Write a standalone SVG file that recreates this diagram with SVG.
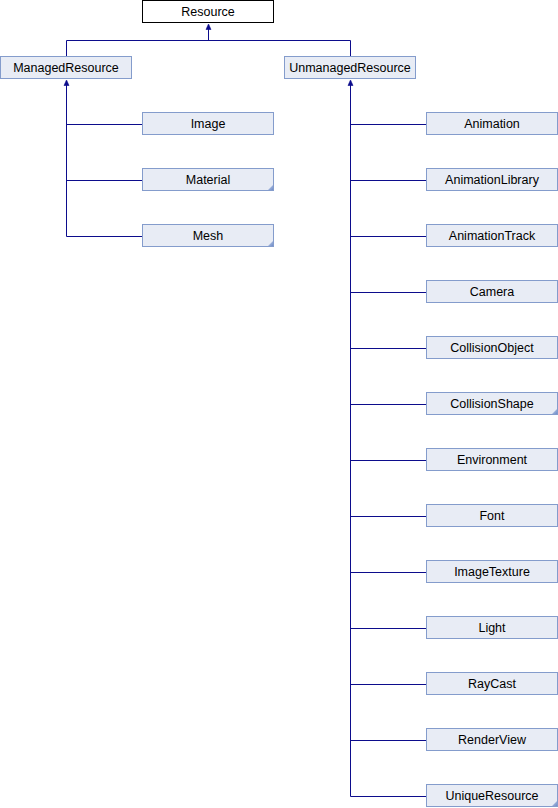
<svg xmlns="http://www.w3.org/2000/svg" width="558" height="808" viewBox="0 0 558 808">
<defs>
<style>
.n rect{fill:#e8ecf5;stroke:#849ccc;stroke-width:1}
.n.root rect{fill:#ffffff;stroke:#000000}
.n text{font-family:"Liberation Sans",Arial,sans-serif;font-size:12.5px;fill:#000000;text-anchor:middle}
.c line,.c polyline{stroke:#0c0c8c;stroke-width:1;fill:none}
.c polygon{fill:#0c0c8c;stroke:#0c0c8c;stroke-width:0.6}
.corner{fill:url(#cg)}
</style>
<linearGradient id="cg" x1="0" y1="0" x2="1" y2="1">
<stop offset="0" stop-color="#c8d4ec"/>
<stop offset="1" stop-color="#6f8cc8"/>
</linearGradient>
</defs>
<rect width="558" height="808" fill="#ffffff"/>
<g id="connectors" class="c">
<polyline points="66.5,56.5 66.5,40.5 350.5,40.5 350.5,56.5"/>
<line x1="208.5" y1="40.5" x2="208.5" y2="28"/>
<polygon points="208.5,24 206,29.5 211,29.5"/>
<line x1="66.5" y1="85" x2="66.5" y2="236.5"/>
<polygon points="66.5,80 64,85.5 69,85.5"/>
<line x1="66.5" y1="124.5" x2="142.5" y2="124.5"/>
<line x1="66.5" y1="180.5" x2="142.5" y2="180.5"/>
<line x1="66.5" y1="236.5" x2="142.5" y2="236.5"/>
<line x1="350.5" y1="85" x2="350.5" y2="796.5"/>
<polygon points="350.5,80 348,85.5 353,85.5"/>
<line x1="350.5" y1="124.5" x2="426.5" y2="124.5"/>
<line x1="350.5" y1="180.5" x2="426.5" y2="180.5"/>
<line x1="350.5" y1="236.5" x2="426.5" y2="236.5"/>
<line x1="350.5" y1="292.5" x2="426.5" y2="292.5"/>
<line x1="350.5" y1="348.5" x2="426.5" y2="348.5"/>
<line x1="350.5" y1="404.5" x2="426.5" y2="404.5"/>
<line x1="350.5" y1="460.5" x2="426.5" y2="460.5"/>
<line x1="350.5" y1="516.5" x2="426.5" y2="516.5"/>
<line x1="350.5" y1="572.5" x2="426.5" y2="572.5"/>
<line x1="350.5" y1="628.5" x2="426.5" y2="628.5"/>
<line x1="350.5" y1="684.5" x2="426.5" y2="684.5"/>
<line x1="350.5" y1="740.5" x2="426.5" y2="740.5"/>
<line x1="350.5" y1="796.5" x2="426.5" y2="796.5"/>
</g>
<g id="Resource" class="n root"><rect x="142.5" y="0.5" width="131" height="22"/><text x="208" y="15.5">Resource</text></g>
<g id="ManagedResource" class="n"><rect x="0.5" y="56.5" width="131" height="22"/><text x="66" y="71.5">ManagedResource</text></g>
<g id="UnmanagedResource" class="n"><rect x="284.5" y="56.5" width="131" height="22"/><text x="350" y="71.5">UnmanagedResource</text></g>
<g id="Image" class="n"><rect x="142.5" y="112.5" width="131" height="22"/><text x="208" y="127.5">Image</text></g>
<g id="Material" class="n"><rect x="142.5" y="168.5" width="131" height="22"/><text x="208" y="183.5">Material</text><polygon class="corner" points="273,185 273,190 268,190"/></g>
<g id="Mesh" class="n"><rect x="142.5" y="224.5" width="131" height="22"/><text x="208" y="239.5">Mesh</text><polygon class="corner" points="273,241 273,246 268,246"/></g>
<g id="Animation" class="n"><rect x="426.5" y="112.5" width="131" height="22"/><text x="492" y="127.5">Animation</text></g>
<g id="AnimationLibrary" class="n"><rect x="426.5" y="168.5" width="131" height="22"/><text x="492" y="183.5">AnimationLibrary</text></g>
<g id="AnimationTrack" class="n"><rect x="426.5" y="224.5" width="131" height="22"/><text x="492" y="239.5">AnimationTrack</text></g>
<g id="Camera" class="n"><rect x="426.5" y="280.5" width="131" height="22"/><text x="492" y="295.5">Camera</text></g>
<g id="CollisionObject" class="n"><rect x="426.5" y="336.5" width="131" height="22"/><text x="492" y="351.5">CollisionObject</text></g>
<g id="CollisionShape" class="n"><rect x="426.5" y="392.5" width="131" height="22"/><text x="492" y="407.5">CollisionShape</text><polygon class="corner" points="557,409 557,414 552,414"/></g>
<g id="Environment" class="n"><rect x="426.5" y="448.5" width="131" height="22"/><text x="492" y="463.5">Environment</text></g>
<g id="Font" class="n"><rect x="426.5" y="504.5" width="131" height="22"/><text x="492" y="519.5">Font</text></g>
<g id="ImageTexture" class="n"><rect x="426.5" y="560.5" width="131" height="22"/><text x="492" y="575.5">ImageTexture</text></g>
<g id="Light" class="n"><rect x="426.5" y="616.5" width="131" height="22"/><text x="492" y="631.5">Light</text></g>
<g id="RayCast" class="n"><rect x="426.5" y="672.5" width="131" height="22"/><text x="492" y="687.5">RayCast</text></g>
<g id="RenderView" class="n"><rect x="426.5" y="728.5" width="131" height="22"/><text x="492" y="743.5">RenderView</text></g>
<g id="UniqueResource" class="n"><rect x="426.5" y="784.5" width="131" height="22"/><text x="492" y="799.5">UniqueResource</text><polygon class="corner" points="557,801 557,806 552,806"/></g>
</svg>
